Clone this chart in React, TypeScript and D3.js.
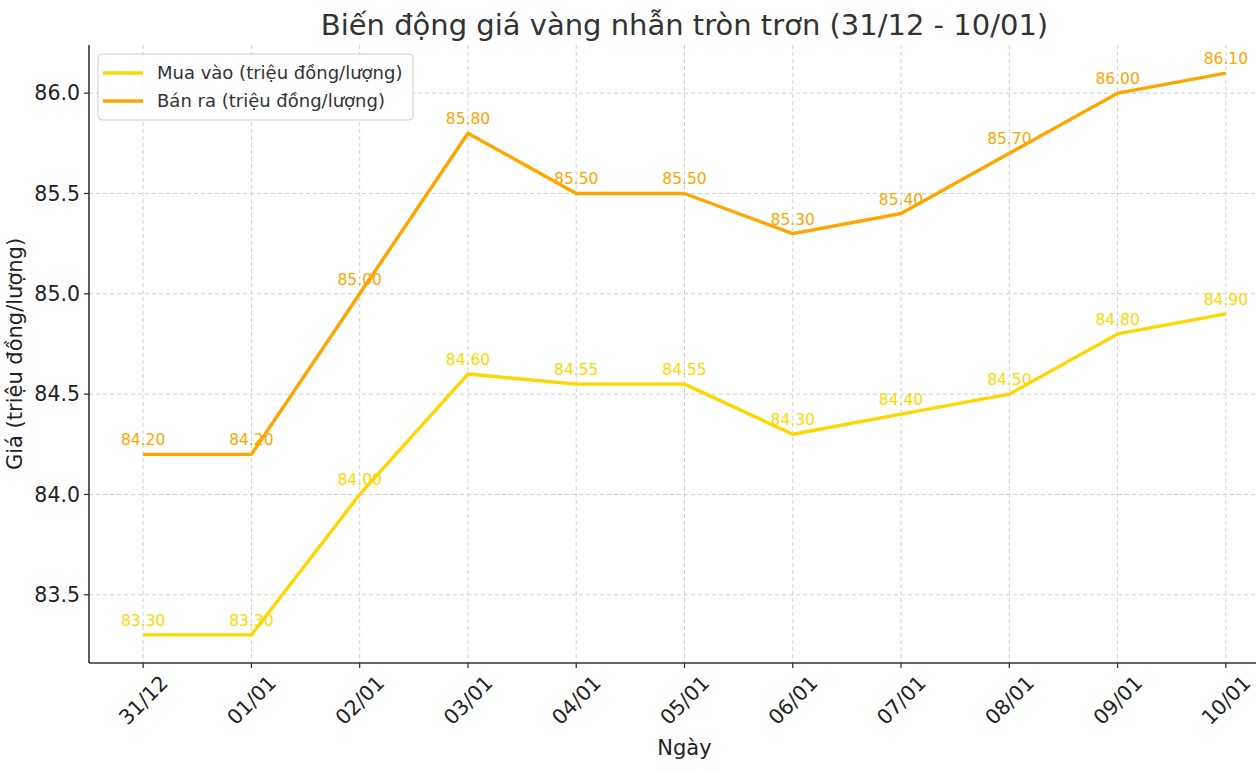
import React from "react";
import * as d3 from "d3";

const dates = ["31/12", "01/01", "02/01", "03/01", "04/01", "05/01", "06/01", "07/01", "08/01", "09/01", "10/01"];
const buyValues = [83.3, 83.3, 84.0, 84.6, 84.55, 84.55, 84.3, 84.4, 84.5, 84.8, 84.9];
const sellValues = [84.2, 84.2, 85.0, 85.8, 85.5, 85.5, 85.3, 85.4, 85.7, 86.0, 86.1];
const yTicks = [83.5, 84.0, 84.5, 85.0, 85.5, 86.0];
const seriesNames = ["Mua vào (triệu đồng/lượng)", "Bán ra (triệu đồng/lượng)"];
const seriesColors = ["#FFD700", "#FFA500"];

const W = 1256, H = 770;
const left = 89, right = 1280, top = 45, bottom = 663;
const FONT = "DejaVu Sans, sans-serif";

export default function App() {
  const x = d3.scaleLinear().domain([-0.5, 10.5]).range([left, right]);
  const y = d3.scaleLinear().domain([83.16, 86.24]).range([bottom, top]);
  const line = d3.line<number>().x((_, i) => x(i)).y((d) => y(d));
  const series = [buyValues, sellValues];

  return (
    <svg width={W} height={H} style={{ position: "absolute", left: 0, top: 0, background: "#fff" }} fontFamily={FONT}>
      <text x={(left + right) / 2} y={35} textAnchor="middle" fontSize={29} fill="#333">
        Biến động giá vàng nhẫn tròn trơn (31/12 - 10/01)
      </text>
      {/* grid */}
      {dates.map((_, i) => (
        <line key={"gx" + i} x1={x(i)} x2={x(i)} y1={top} y2={bottom} stroke="#cccccc" strokeWidth={0.9} strokeDasharray="4,3" />
      ))}
      {yTicks.map((t) => (
        <line key={"gy" + t} x1={left} x2={W} y1={y(t)} y2={y(t)} stroke="#cccccc" strokeWidth={0.9} strokeDasharray="4,3" />
      ))}
      {/* lines */}
      {series.map((s, k) => (
        <path key={"l" + k} d={line(s) || ""} fill="none" stroke={seriesColors[k]} strokeWidth={3.4} strokeLinejoin="round" />
      ))}
      {/* annotations */}
      {series.map((s, k) =>
        s.map((v, i) => (
          <text key={"a" + k + i} x={x(i)} y={y(v) - 9} textAnchor="middle" fontSize={15.5} fill={seriesColors[k]}>
            {v.toFixed(2)}
          </text>
        ))
      )}
      {/* spines */}
      <line x1={left} x2={left} y1={top} y2={bottom} stroke="#333" strokeWidth={1.6} />
      <line x1={left} x2={W} y1={bottom} y2={bottom} stroke="#333" strokeWidth={1.6} />
      {/* y ticks */}
      {yTicks.map((t) => (
        <g key={"yt" + t}>
          <line x1={left - 5} x2={left} y1={y(t)} y2={y(t)} stroke="#333" strokeWidth={1.3} />
          <text x={left - 9} y={y(t)} dy="0.35em" textAnchor="end" fontSize={20.5} fill="#222">
            {t.toFixed(1)}
          </text>
        </g>
      ))}
      {/* x ticks */}
      {dates.map((d, i) => (
        <g key={"xt" + i}>
          <line x1={x(i)} x2={x(i)} y1={bottom} y2={bottom + 5} stroke="#333" strokeWidth={1.3} />
          <text
            transform={`translate(${x(i)},${bottom + 37}) rotate(-45)`}
            textAnchor="middle"
            dy="0.36em"
            fontSize={20.5}
            fill="#222"
          >
            {d}
          </text>
        </g>
      ))}
      <text x={(left + right) / 2} y={755} textAnchor="middle" fontSize={21} fill="#222">
        Ngày
      </text>
      <text transform={`translate(22,${(top + bottom) / 2}) rotate(-90)`} textAnchor="middle" fontSize={21} fill="#222">
        Giá (triệu đồng/lượng)
      </text>
      {/* legend */}
      <rect x={98} y={54} width={315} height={66} rx={4} fill="#fff" fillOpacity={0.85} stroke="#d0d0d0" strokeWidth={1} />
      {seriesNames.map((n, k) => (
        <g key={"lg" + k}>
          <line x1={103} x2={143} y1={73 + k * 28} y2={73 + k * 28} stroke={seriesColors[k]} strokeWidth={3.4} />
          <text x={157} y={73 + k * 28} dy="0.35em" fontSize={18} fill="#333">
            {n}
          </text>
        </g>
      ))}
    </svg>
  );
}
